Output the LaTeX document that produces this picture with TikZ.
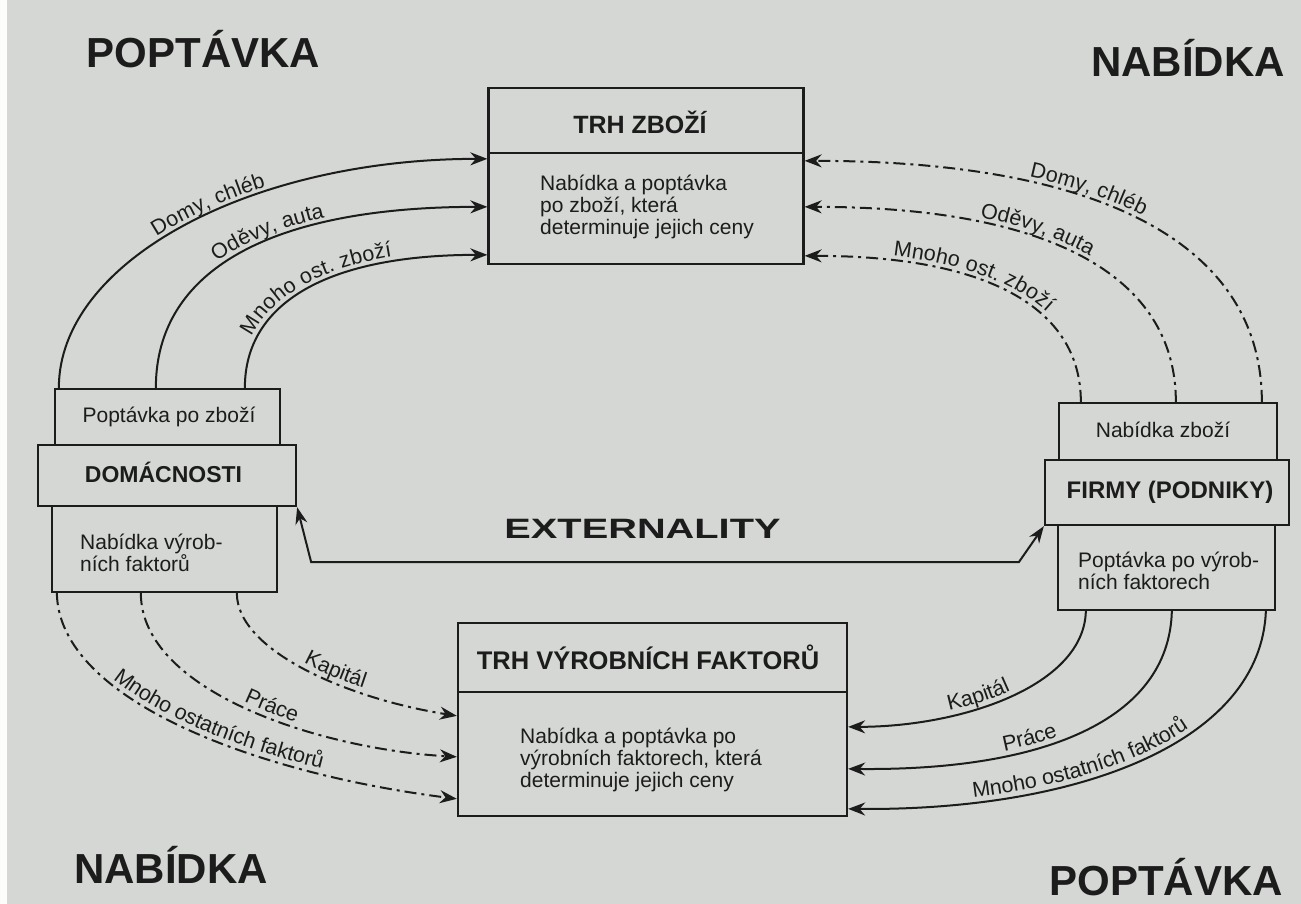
\documentclass[tikz,border=0pt]{standalone}
\usepackage{fontspec}
\setmainfont{Liberation Sans}
\newfontfamily\widefont{Liberation Sans}[FakeStretch=1.42]
\usetikzlibrary{arrows.meta,calc,decorations.text}
\definecolor{bg}{HTML}{D4D7D3}
\definecolor{ink}{HTML}{1C1C1C}
\newcommand\fsz[1]{\fontsize{#1pt}{22pt}\selectfont}
\newcommand\lblfont{\fontsize{21.5pt}{22pt}\selectfont\color{ink}}
\begin{document}
\begin{tikzpicture}[x=1pt,y=-1pt,
  box/.style={draw=ink, line width=2.3pt, inner sep=0pt},
  txt/.style={text=ink, inner sep=0pt, font=\fsz{21}, align=left},
  ttl/.style={text=ink, inner sep=0pt, font=\bfseries\fsz{25}},
  big/.style={text=ink, inner sep=0pt, font=\bfseries\fsz{42}},
  solidarr/.style={draw=ink, line width=2pt, -{Stealth[length=17pt,width=13pt]}},
  dasharr/.style={solidarr, dash pattern=on 12pt off 5pt on 3pt off 5pt},
  lbl/.style 2 args={decorate, decoration={text along path, text={|\lblfont|#1},
     text align={align=left, left indent=#2}, raise=5pt}},
]
\fill[bg] (0,0) rectangle (1301,904);
\fill[white!92!bg] (0,0) rectangle (7,904);
\useasboundingbox (0,0) rectangle (1301,904);

% boxes
\node[box, minimum width=315pt, minimum height=65pt] (tzT) at (646,120.5) {};
\node[box, minimum width=315pt, minimum height=111pt] (tzB) at (646,208.5) {};
\node[box, minimum width=225pt, minimum height=56pt] (hT) at (167.5,417) {};
\node[box, minimum width=225pt, minimum height=86pt] (hB) at (164.5,549) {};
\node[box, minimum width=258pt, minimum height=61pt] (hM) at (167,475.5) {};
\node[box, minimum width=218pt, minimum height=57pt] (fT) at (1168,431.5) {};
\node[box, minimum width=217pt, minimum height=85pt] (fB) at (1166.5,567.5) {};
\node[box, minimum width=244pt, minimum height=65pt] (fM) at (1167,492.5) {};
\node[box, minimum width=389pt, minimum height=69pt] (vfT) at (652.5,657.5) {};
\node[box, minimum width=389pt, minimum height=124pt] (vfB) at (652.5,754) {};

% texts
\node[ttl, anchor=base] (tzTt) at (640,134) {TRH ZBOŽÍ};
\node[txt, anchor=west] (tzBt) at (540,207) {Nabídka a poptávka\\po zboží, která\\determinuje jejich ceny};
\node[txt] (hTt) at (169,417) {Poptávka po zboží};
\node[ttl, font=\bfseries\fsz{23}, anchor=base] (hMt) at (163.5,482) {DOMÁCNOSTI};
\node[txt, anchor=west] (hBt) at (80,553) {Nabídka výrob-\\ních faktorů};
\node[txt] (fTt) at (1163,430) {Nabídka zboží};
\node[ttl, font=\bfseries\fsz{24}, anchor=base] (fMt) at (1170,498) {FIRMY (PODNIKY)};
\node[txt, anchor=west] (fBt) at (1078,571) {Poptávka po výrob-\\ních faktorech};
\node[ttl, font=\bfseries\fsz{25.5}, anchor=base] (vfTt) at (648,669) {TRH VÝROBNÍCH FAKTORŮ};
\node[txt, anchor=west] (vfBt) at (520,760) {Nabídka a poptávka po\\výrobních faktorech, která\\determinuje jejich ceny};

\node[big, anchor=base] (c1) at (203.5,68) {POPTÁVKA};
\node[big, anchor=base] (c2) at (1188,77) {NABÍDKA};
\node[big, anchor=base] (c3) at (171,883) {NABÍDKA};
\node[big, anchor=base] (c4) at (1166,895) {POPTÁVKA};
\node[text=ink, inner sep=0pt, font=\widefont\bfseries\fsz{28}, anchor=base] (ext) at (642.5,538) {EXTERNALITY};

% top-left: households -> goods market
\draw[solidarr] ([xshift=5pt]hT.north west) .. controls +(0,-126.5) and +(-237,0) .. ([yshift=-7pt]tzB.north west);
\path[lbl={Domy{,} chléb}{186pt}] ([xshift=5pt]hT.north west) .. controls +(0,-126.5) and +(-237,0) .. ([yshift=-7pt]tzB.north west);
\draw[solidarr] ([xshift=102pt]hT.north west) .. controls +(0,-118) and +(-216,0) .. ([yshift=-55pt]tzB.north west);
\path[lbl={Oděvy{,} auta}{143pt}] ([xshift=102pt]hT.north west) .. controls +(0,-118) and +(-216,0) .. ([yshift=-55pt]tzB.north west);
\draw[solidarr] ([xshift=191pt]hT.north west) .. controls +(0,-86) and +(-158,0) .. ([yshift=-103pt]tzB.north west);
\path[lbl={Mnoho ost. zboží}{50pt}] ([xshift=191pt]hT.north west) .. controls +(0,-86) and +(-158,0) .. ([yshift=-103pt]tzB.north west);

% top-right: firms -> goods market
\draw[dasharr] ([xshift=204pt]fT.north west) .. controls +(0,-157) and +(298,0) .. ([yshift=-9pt]tzB.north east);
\path[lbl={Domy{,} chléb}{225pt}] ([yshift=-9pt]tzB.north east) .. controls +(298,0) and +(0,-157) .. ([xshift=204pt]fT.north west);
\draw[dasharr] ([xshift=118pt]fT.north west) .. controls +(0,-127) and +(243,0) .. ([yshift=-55pt]tzB.north east);
\path[lbl={Oděvy{,} auta}{175pt}] ([yshift=-55pt]tzB.north east) .. controls +(243,0) and +(0,-127) .. ([xshift=118pt]fT.north west);
\draw[dasharr] ([xshift=23pt]fT.north west) .. controls +(0,-95) and +(181,0) .. ([yshift=-104pt]tzB.north east);
\path[lbl={Mnoho ost. zboží}{88pt}] ([yshift=-104pt]tzB.north east) .. controls +(181,0) and +(0,-95) .. ([xshift=23pt]fT.north west);

% bottom-left: households -> factor market
\draw[dasharr] ([xshift=186pt]hB.south west) .. controls +(0,58) and +(-108,-17) .. ([yshift=-25pt]vfB.north west);
\path[lbl={Kapitál}{103pt}] ([xshift=186pt]hB.south west) .. controls +(0,58) and +(-108,-17) .. ([yshift=-25pt]vfB.north west);
\draw[dasharr] ([xshift=90pt]hB.south west) .. controls +(0,98) and +(-138,-8) .. ([yshift=-66pt]vfB.north west);
\path[lbl={Práce}{160pt}] ([xshift=90pt]hB.south west) .. controls +(0,98) and +(-138,-8) .. ([yshift=-66pt]vfB.north west);
\draw[dasharr] ([xshift=6pt]hB.south west) .. controls +(2,108) and +(-198,-25) .. ([yshift=-108pt]vfB.north west);
\path[lbl={Mnoho ostatních faktorů}{108pt}] ([xshift=6pt]hB.south west) .. controls +(2,108) and +(-198,-25) .. ([yshift=-108pt]vfB.north west);

% bottom-right: firms -> factor market
\draw[solidarr] ([xshift=29pt]fB.south west) .. controls +(-2,75) and +(113,0) .. ([yshift=-36pt]vfB.north east);
\path[lbl={Kapitál}{103pt}] ([yshift=-36pt]vfB.north east) .. controls +(113,0) and +(-2,75) .. ([xshift=29pt]fB.south west);
\draw[solidarr] ([xshift=115pt]fB.south west) .. controls +(-3,110) and +(193,2) .. ([yshift=-78pt]vfB.north east);
\path[lbl={Práce}{158pt}] ([yshift=-78pt]vfB.north east) .. controls +(193,2) and +(-3,110) .. ([xshift=115pt]fB.south west);
\draw[solidarr] ([xshift=209pt]fB.south west) .. controls +(-5,130) and +(233,2) .. ([yshift=-118pt]vfB.north east);
\path[lbl={Mnoho ostatních faktorů}{126pt}] ([yshift=-118pt]vfB.north east) .. controls +(233,2) and +(-5,130) .. ([xshift=209pt]fB.south west);

% externalities
\draw[draw=ink, line width=2pt, {Stealth[length=17pt,width=12pt]}-{Stealth[length=17pt,width=12pt]}]
  (hM.south east) -- ([xshift=14pt,yshift=-55pt]hM.south east)
  -- ([xshift=-25pt,yshift=-36pt]fM.south west) -- (fM.south west);
\end{tikzpicture}
\end{document}
